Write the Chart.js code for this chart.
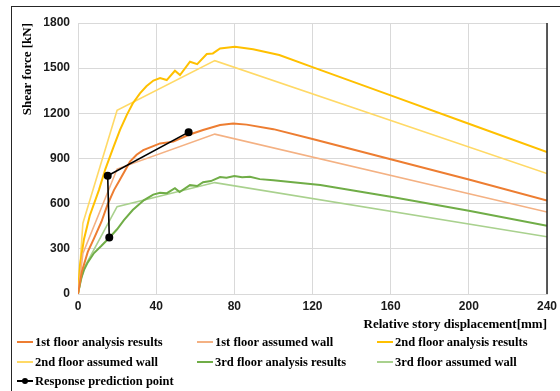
<!DOCTYPE html>
<html>
<head>
<meta charset="utf-8">
<script src="https://cdn.jsdelivr.net/npm/chart.js@4/dist/chart.umd.min.js"></script>
<style>
  html, body { margin: 0; padding: 0; background: #fff; }
  #wrap { position: relative; width: 560px; height: 391px; overflow: hidden; }
  #frame { position: absolute; left: 11px; top: 6px; width: 600px; height: 450px;
           border-top: 1px solid #262626; border-left: 1px solid #262626; }
  #chartBox { position: absolute; left: 0; top: 0; width: 560px; height: 337px; }
  .leg { position: absolute; font: bold 12.5px "Liberation Serif", serif; color: #000;
         white-space: nowrap; line-height: 14px; }
  .leg .sample { display: inline-block; position: relative; width: 16px; height: 2px;
                 vertical-align: middle; margin-right: 2px; margin-top: -2px; }
  .leg .dot { position: absolute; left: 5px; top: -2px; width: 6px; height: 6px;
              border-radius: 50%; background: #000; }
</style>
</head>
<body>
<div id="wrap">
  <div id="frame"></div>
  <div id="chartBox"><canvas id="myChart"></canvas></div>
  <div id="legend"></div>
</div>
<script>
// relative story displacement [mm] / shear force [kN]
const floor1ResultX = [0, 2, 5, 8.2, 12, 15, 18.4, 21.5, 26.6, 30, 33.4, 42, 48.8, 56.4, 64, 72.7, 79.4, 86.3, 100, 120, 160, 200, 240];
const floor1ResultY = [0, 150, 280, 370, 480, 590, 690, 760, 879, 925, 956, 1000, 1012, 1056, 1089, 1122, 1133, 1125, 1095, 1030, 895, 760, 620];

const floor1WallX = [0, 2.5, 20, 70, 240];
const floor1WallY = [0, 270, 830, 1062, 545];

const floor2ResultX = [0, 1, 3, 6, 10.7, 14, 18, 21.5, 25, 28, 31.7, 35, 38.6, 42, 45.4, 49.6, 52.2, 57.3, 61, 65.9, 69, 72.7, 80.3, 89.6, 103, 120, 160, 200, 240];
const floor2ResultY = [0, 190, 360, 520, 690, 830, 970, 1090, 1190, 1265, 1333, 1380, 1418, 1434, 1421, 1483, 1454, 1543, 1527, 1594, 1598, 1631, 1642, 1625, 1587, 1507, 1319, 1131, 943];

const floor2WallX = [0, 2.5, 20, 70, 240];
const floor2WallY = [0, 470, 1220, 1550, 800];

const floor3ResultX = [0, 1.5, 3.1, 5, 8.2, 12, 15.9, 20, 23.5, 28, 33.8, 38.5, 42, 45.5, 49.6, 52, 57.3, 61, 64, 68, 72.7, 76, 80, 84, 88, 93, 100, 110, 124, 160, 200, 240];
const floor3ResultY = [0, 100, 160, 210, 272, 320, 372, 430, 491, 558, 624, 660, 672, 670, 703, 677, 723, 717, 743, 750, 777, 772, 783, 775, 778, 763, 755, 742, 724, 646, 553, 453];

const floor3WallX = [0, 3, 20, 70, 240];
const floor3WallY = [0, 170, 580, 740, 380];

const predictionX = [16, 15.2, 56.6];
const predictionY = [375, 785, 1075];

const xTicks = [0, 40, 80, 120, 160, 200, 240];
const yTicks = [0, 300, 600, 900, 1200, 1500, 1800];

const seriesNames = [
  "1st floor analysis results", "1st floor assumed wall", "2nd floor analysis results",
  "2nd floor assumed wall", "3rd floor analysis results", "3rd floor assumed wall",
  "Response prediction point"
];

function pts(xs, ys) {
  return xs.map((x, i) => ({ x: x, y: ys[i] }));
}

function lineSet(label, xs, ys, color, width) {
  return {
    label: label,
    data: pts(xs, ys),
    borderColor: color,
    backgroundColor: color,
    borderWidth: width,
    showLine: true,
    pointRadius: 0,
    tension: 0
  };
}

const datasets = [
  lineSet(seriesNames[0], floor1ResultX, floor1ResultY, "#ED7D31", 2),
  lineSet(seriesNames[1], floor1WallX, floor1WallY, "#F4B183", 1.6),
  lineSet(seriesNames[2], floor2ResultX, floor2ResultY, "#FFC000", 2),
  lineSet(seriesNames[3], floor2WallX, floor2WallY, "#FFD966", 1.6),
  lineSet(seriesNames[4], floor3ResultX, floor3ResultY, "#70AD47", 2),
  lineSet(seriesNames[5], floor3WallX, floor3WallY, "#A9D18E", 1.6),
  Object.assign(lineSet(seriesNames[6], predictionX, predictionY, "#000000", 1.6), { pointRadius: 3.2 })
];
// draw the black one on top
datasets[6].order = -1;

// dark line at the right edge of the plot
const rightEdge = {
  id: "rightEdge",
  afterDraw(chart) {
    const a = chart.chartArea, ctx = chart.ctx;
    ctx.save();
    ctx.strokeStyle = "#262626";
    ctx.lineWidth = 1.5;
    ctx.beginPath();
    ctx.moveTo(a.right, a.top);
    ctx.lineTo(a.right, a.bottom);
    ctx.stroke();
    ctx.restore();
  }
};

const tickFont = { family: "'Liberation Sans', Arial, sans-serif", size: 12, weight: "bold" };
const titleFont = { family: "'Liberation Serif', 'Times New Roman', serif", size: 13, weight: "bold" };

const config = {
  type: "scatter",
  data: { datasets: datasets },
  options: {
    responsive: false,
    animation: false,
    layout: { padding: { top: 23, left: 16, right: 13, bottom: 5 } },
    plugins: { legend: { display: false }, tooltip: { enabled: false } },
    scales: {
      x: {
        type: "linear",
        min: xTicks[0],
        max: xTicks[xTicks.length - 1],
        afterBuildTicks: (s) => { s.ticks = xTicks.map(v => ({ value: v })); },
        afterFit: (s) => { s.height = 38; s.paddingRight = 0; s.paddingLeft = 0; },
        grid: { color: "#d9d9d9", lineWidth: 1, drawTicks: false },
        border: { color: "#d9d9d9" },
        ticks: { font: tickFont, color: "#1a1a1a", padding: 5, maxRotation: 0, callback: v => String(v) },
        title: { display: true, text: "Relative story displacement[mm]", align: "end",
                 font: titleFont, color: "#000", padding: { top: 2, bottom: 0 } }
      },
      y: {
        type: "linear",
        min: yTicks[0],
        max: yTicks[yTicks.length - 1],
        afterBuildTicks: (s) => { s.ticks = yTicks.map(v => ({ value: v })); },
        afterFit: (s) => { s.width = 62; },
        grid: { color: "#d9d9d9", lineWidth: 1, drawTicks: false },
        border: { color: "#d9d9d9" },
        ticks: { font: tickFont, color: "#1a1a1a", padding: 8, callback: v => String(v) },
        title: { display: true, text: "Shear force [kN]", align: "end",
                 font: titleFont, color: "#000", padding: { top: 4, bottom: 4 } }
      }
    }
  },
  plugins: [rightEdge]
};

const canvas = document.getElementById("myChart");
canvas.width = 560;
canvas.height = 337;
const myChart = new Chart(canvas, config);

// legend in three columns like the original
const legCols = [17, 197, 377];
const legRows = [342, 362, 381];
const legend = document.getElementById("legend");
myChart.data.datasets.forEach((ds, i) => {
  const el = document.createElement("div");
  el.className = "leg";
  el.style.left = legCols[i % 3] + "px";
  el.style.top = (legRows[Math.floor(i / 3)] - 7) + "px";
  const s = document.createElement("span");
  s.className = "sample";
  s.style.background = ds.borderColor;
  if (ds.pointRadius > 0) {
    const d = document.createElement("span");
    d.className = "dot";
    s.appendChild(d);
  }
  el.appendChild(s);
  el.appendChild(document.createTextNode(ds.label));
  legend.appendChild(el);
});
</script>
</body>
</html>
